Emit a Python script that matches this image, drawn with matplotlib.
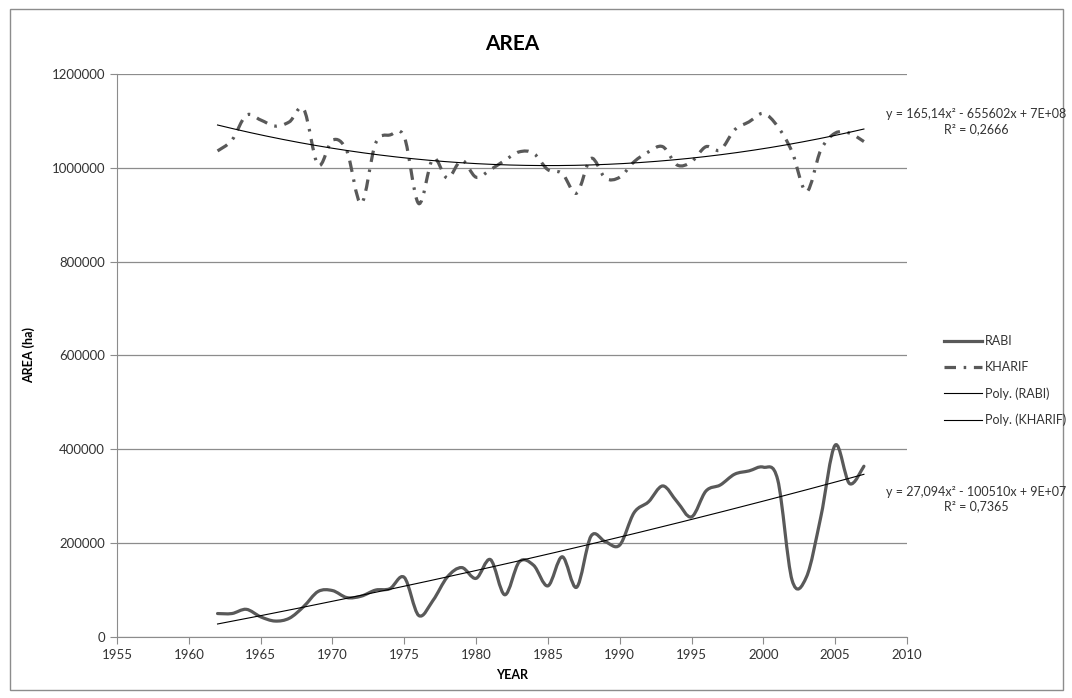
import numpy as np
import matplotlib
matplotlib.use("Agg")
import matplotlib.pyplot as plt
from matplotlib.path import Path
from matplotlib.patches import PathPatch, Rectangle
from matplotlib.lines import Line2D
from matplotlib.ticker import FuncFormatter

plt.rcParams['font.family'] = ['Lato', 'DejaVu Sans']

years = list(range(1962, 2008))
rabi = [50000, 50000, 59000, 43000, 34000, 40000, 65000, 97000, 99000, 84000,
        87000, 100000, 103000, 127000, 46000, 78000, 128000, 148000, 125000, 165000,
        90000, 160000, 153000, 109000, 171000, 106000, 215000, 203000, 196000, 265000,
        288000, 322000, 288000, 256000, 311000, 324000, 347000, 354000, 362000, 335000,
        121000, 128000, 256000, 409000, 327000, 364000]
kharif = [1036000, 1059000, 1112000, 1102000, 1089000, 1098000, 1125000, 1006000, 1059000, 1036000,
          924000, 1052000, 1070000, 1066000, 924000, 1020000, 978000, 1016000, 980000, 996000,
          1016000, 1034000, 1031000, 996000, 988000, 946000, 1020000, 978000, 980000, 1013000,
          1034000, 1045000, 1006000, 1013000, 1045000, 1038000, 1081000, 1098000, 1116000, 1088000,
          1034000, 949000, 1038000, 1074000, 1074000, 1056000]
eq_kharif = "y = 165,14x\u00b2 - 655602x + 7E+08\nR\u00b2 = 0,2666"
eq_rabi = "y = 27,094x\u00b2 - 100510x + 9E+07\nR\u00b2 = 0,7365"

W, H = 1072, 698
GREY = '#595959'


def smooth_path(x, y):
    # Excel style smoothed line: cubic Bezier through every point
    x = np.asarray(x, float)
    y = np.asarray(y, float)
    n = len(x)
    verts = [(x[0], y[0])]
    codes = [Path.MOVETO]
    for i in range(n - 1):
        p0 = (x[max(i - 1, 0)], y[max(i - 1, 0)])
        p1 = (x[i], y[i])
        p2 = (x[i + 1], y[i + 1])
        p3 = (x[min(i + 2, n - 1)], y[min(i + 2, n - 1)])
        c1 = (p1[0] + (p2[0] - p0[0]) / 6, p1[1] + (p2[1] - p0[1]) / 6)
        c2 = (p2[0] - (p3[0] - p1[0]) / 6, p2[1] - (p3[1] - p1[1]) / 6)
        verts += [c1, c2, p2]
        codes += [Path.CURVE4] * 3
    return Path(verts, codes)


fig = plt.figure(figsize=(W / 100, H / 100), dpi=100)
fig.patches.append(Rectangle((10 / W, 8 / H), 1053 / W, 681 / H, transform=fig.transFigure,
                             fill=False, edgecolor='#8c8c8c', lw=1))
ax = fig.add_axes([117 / W, 1 - 637 / H, 790 / W, 563 / H])

ax.set_xlim(1955, 2010)
ax.set_ylim(0, 1200000)
ax.set_xticks(range(1955, 2011, 5))
ax.set_yticks(range(0, 1200001, 200000))
ax.yaxis.set_major_formatter(FuncFormatter(lambda v, p: '%d' % v))
ax.grid(axis='y', color='#8c8c8c', lw=0.9)
ax.set_axisbelow(True)
for s in ['top', 'right']:
    ax.spines[s].set_visible(False)
for s in ['left', 'bottom']:
    ax.spines[s].set_color('#8c8c8c')
ax.tick_params(colors='#8c8c8c', labelcolor='#333333', labelsize=9.5, length=5, direction='out')

ls_kh = (0, (3.6, 2.4, 0.8, 2.4))
ax.add_patch(PathPatch(smooth_path(years, rabi), fill=False, edgecolor=GREY, lw=2.3,
                       capstyle='round', joinstyle='round'))
ax.add_patch(PathPatch(smooth_path(years, kharif), fill=False, edgecolor=GREY, lw=2.3,
                       linestyle=ls_kh, capstyle='butt'))

yr = np.array(years, float)
for data in (rabi, kharif):
    c = np.polyfit(yr - 1985, data, 2)
    xs = np.linspace(yr[0], yr[-1], 200)
    ax.plot(xs, np.polyval(c, xs - 1985), color='black', lw=0.8)

ax.set_title('AREA', fontsize=15, fontweight='bold', pad=17)
ax.set_xlabel('YEAR', fontsize=9, fontweight='bold', labelpad=6)
ax.set_ylabel('AREA (ha)', fontsize=9, fontweight='bold', labelpad=12)

handles = [Line2D([], [], color=GREY, lw=2.3),
           Line2D([], [], color=GREY, lw=2.3, linestyle=ls_kh),
           Line2D([], [], color='black', lw=0.8),
           Line2D([], [], color='black', lw=0.8)]
labels = ['RABI', 'KHARIF', 'Poly. (RABI)', 'Poly. (KHARIF)']
fig.legend(handles, labels, loc='upper left', bbox_to_anchor=(944 / W, 1 - 335 / H),
           frameon=False, fontsize=9, handlelength=3.0, handletextpad=0.3,
           labelspacing=1.12, labelcolor='#333333', borderpad=0, borderaxespad=0)

fig.text(976 / W, 1 - 122 / H, eq_kharif, ha='center', va='center', fontsize=9,
         color='#333333', linespacing=1.3)
fig.text(976 / W, 1 - 499 / H, eq_rabi, ha='center', va='center', fontsize=9,
         color='#333333', linespacing=1.3)

fig.savefig('out.png', dpi=100)
